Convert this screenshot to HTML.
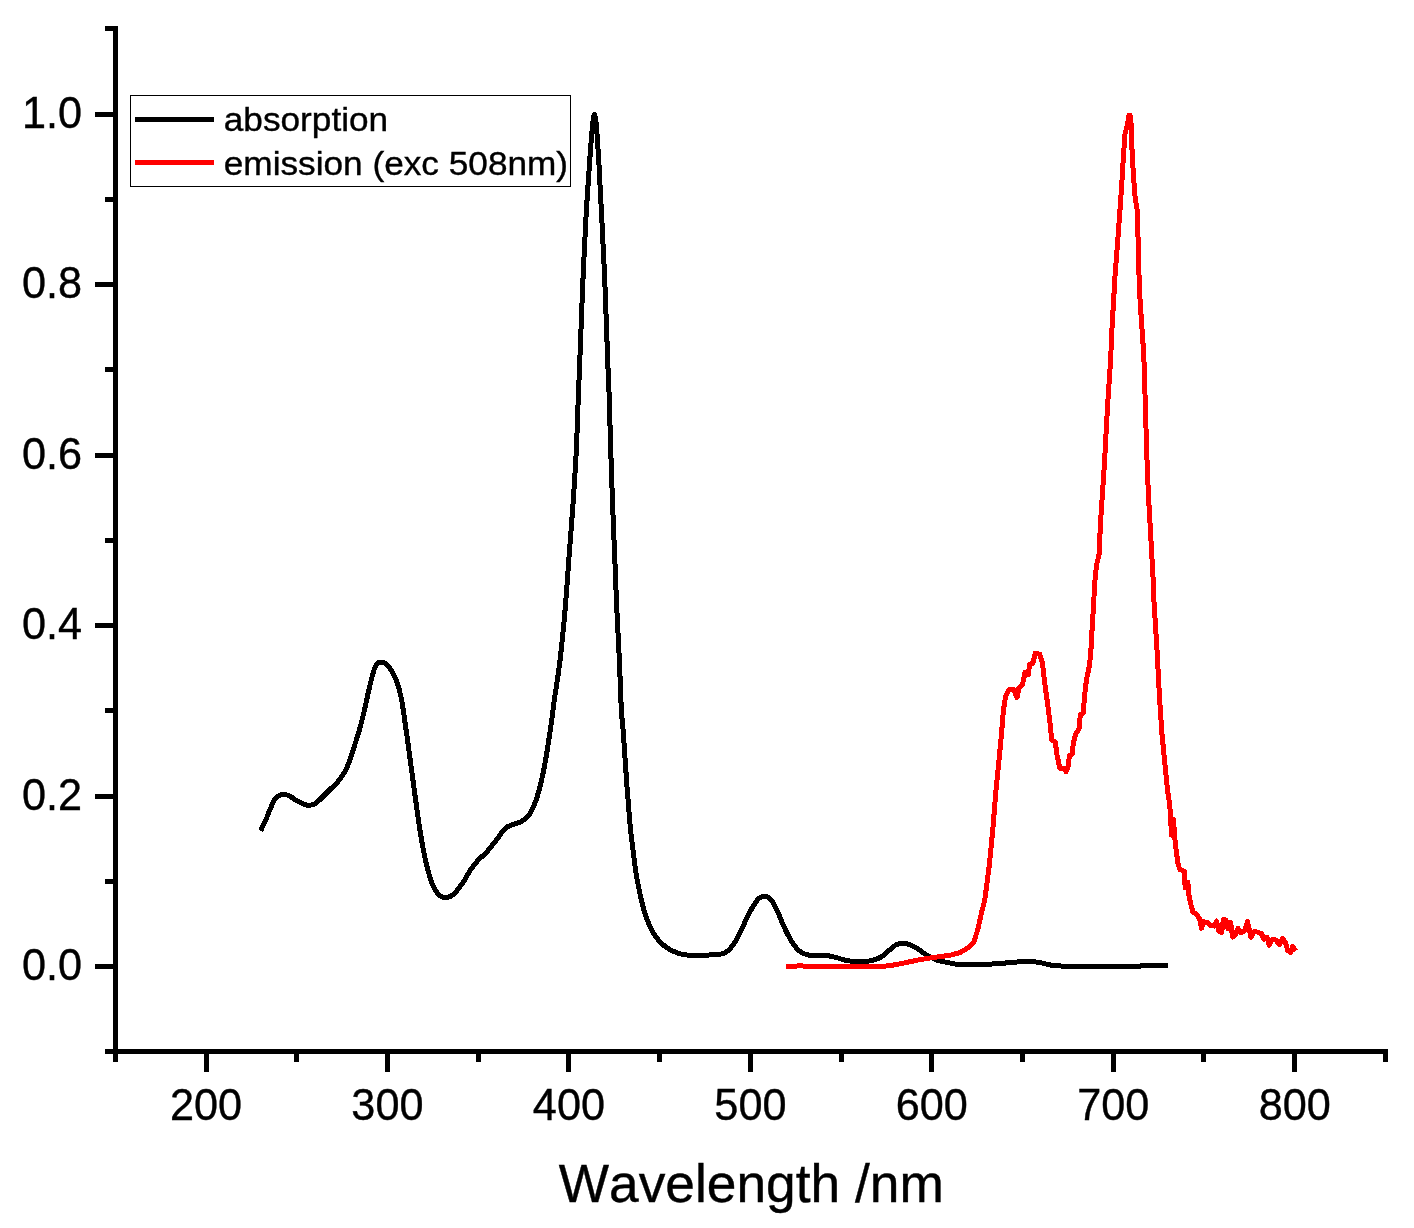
<!DOCTYPE html>
<html><head><meta charset="utf-8"><title>Spectrum</title>
<style>
html,body{margin:0;padding:0;background:#fff;}
svg{display:block;will-change:transform;}
text{font-family:"Liberation Sans",sans-serif;fill:#000;font-kerning:none;stroke:#000;stroke-width:0.4px;}
</style></head><body>
<svg width="1414" height="1228" viewBox="0 0 1414 1228">
<rect width="1414" height="1228" fill="#fff"/>
<g fill="#000" shape-rendering="crispEdges">
<rect x="113" y="26" width="5" height="1036"/>
<rect x="105" y="1049" width="1283" height="5"/>
<rect x="105" y="1049" width="8" height="5"/>
<rect x="95" y="964" width="18" height="5"/>
<rect x="105" y="879" width="8" height="5"/>
<rect x="95" y="794" width="18" height="5"/>
<rect x="105" y="708" width="8" height="5"/>
<rect x="95" y="623" width="18" height="5"/>
<rect x="105" y="538" width="8" height="5"/>
<rect x="95" y="453" width="18" height="5"/>
<rect x="105" y="367" width="8" height="5"/>
<rect x="95" y="282" width="18" height="5"/>
<rect x="105" y="197" width="8" height="5"/>
<rect x="95" y="112" width="18" height="5"/>
<rect x="105" y="26" width="8" height="5"/>
<rect x="113" y="1054" width="4.5" height="8"/>
<rect x="204" y="1054" width="4.5" height="18"/>
<rect x="294" y="1054" width="4.5" height="8"/>
<rect x="385" y="1054" width="4.5" height="18"/>
<rect x="476" y="1054" width="4.5" height="8"/>
<rect x="566" y="1054" width="4.5" height="18"/>
<rect x="657" y="1054" width="4.5" height="8"/>
<rect x="748" y="1054" width="4.5" height="18"/>
<rect x="839" y="1054" width="4.5" height="8"/>
<rect x="929" y="1054" width="4.5" height="18"/>
<rect x="1020" y="1054" width="4.5" height="8"/>
<rect x="1111" y="1054" width="4.5" height="18"/>
<rect x="1201" y="1054" width="4.5" height="8"/>
<rect x="1292" y="1054" width="4.5" height="18"/>
<rect x="1383" y="1054" width="4.5" height="8"/>
</g>
<g font-size="43.25">
<text transform="translate(82 980) scale(1 1.041)" text-anchor="end">0.0</text>
<text transform="translate(82 810) scale(1 1.041)" text-anchor="end">0.2</text>
<text transform="translate(82 639) scale(1 1.041)" text-anchor="end">0.4</text>
<text transform="translate(82 469) scale(1 1.041)" text-anchor="end">0.6</text>
<text transform="translate(82 298) scale(1 1.041)" text-anchor="end">0.8</text>
<text transform="translate(82 128) scale(1 1.041)" text-anchor="end">1.0</text>
<text transform="translate(206.0 1120) scale(1 1.041)" text-anchor="middle">200</text>
<text transform="translate(387.4 1120) scale(1 1.041)" text-anchor="middle">300</text>
<text transform="translate(568.9 1120) scale(1 1.041)" text-anchor="middle">400</text>
<text transform="translate(750.4 1120) scale(1 1.041)" text-anchor="middle">500</text>
<text transform="translate(931.8 1120) scale(1 1.041)" text-anchor="middle">600</text>
<text transform="translate(1113.2 1120) scale(1 1.041)" text-anchor="middle">700</text>
<text transform="translate(1294.7 1120) scale(1 1.041)" text-anchor="middle">800</text>
</g>
<text transform="translate(751.3 1202) scale(1 1.01)" font-size="53.3" text-anchor="middle">Wavelength /nm</text>
<path d="M260.6 831.0C260.8 830.6 260.8 830.6 261.7 828.6C262.6 826.6 264.7 822.5 266.2 819.0C267.7 815.5 269.3 811.0 270.8 807.6C272.3 804.2 273.8 800.6 275.3 798.5C276.8 796.4 278.4 795.8 279.9 795.1C281.4 794.4 282.8 794.2 284.5 794.4C286.2 794.6 288.1 795.3 290.2 796.4C292.3 797.5 294.7 799.5 297.0 800.8C299.3 802.1 301.8 803.5 303.9 804.2C306.0 805.0 307.7 805.4 309.6 805.3C311.5 805.2 313.2 805.0 315.3 803.7C317.4 802.4 319.6 799.8 322.1 797.4C324.6 795.0 327.4 792.1 330.1 789.4C332.8 786.7 335.8 784.1 338.1 781.4C340.4 778.7 342.1 776.2 343.8 773.4C345.5 770.5 346.6 768.7 348.3 764.3C350.0 759.9 352.1 753.1 354.0 747.2C355.9 741.3 358.0 735.0 359.7 728.9C361.4 722.8 362.8 717.2 364.3 710.7C365.8 704.2 367.3 696.7 368.8 690.2C370.3 683.7 372.1 676.3 373.4 671.9C374.7 667.5 375.5 665.5 376.8 663.9C378.1 662.3 379.9 662.1 381.4 662.1C382.9 662.1 384.3 662.5 386.0 663.9C387.7 665.3 389.8 667.6 391.7 670.8C393.6 674.0 395.7 678.2 397.4 683.3C399.1 688.4 400.6 694.8 401.9 701.6C403.2 708.5 404.1 716.4 405.3 724.4C406.5 732.4 407.7 741.1 408.8 749.5C409.9 757.9 411.1 766.2 412.2 774.6C413.3 783.0 414.3 790.1 415.6 799.6C416.9 809.1 418.7 822.1 420.2 831.6C421.7 841.1 423.2 849.4 424.7 856.6C426.2 863.8 427.8 869.8 429.3 874.9C430.8 880.0 432.1 884.0 433.8 887.4C435.5 890.8 437.6 893.7 439.5 895.4C441.4 897.1 443.4 897.6 445.3 897.7C447.2 897.8 449.1 897.2 451.0 896.1C452.9 895.0 454.6 893.3 456.7 890.9C458.8 888.5 461.2 885.1 463.5 881.7C465.8 878.3 468.0 873.7 470.3 870.3C472.6 866.9 474.4 864.3 477.2 861.2C480.0 858.1 483.8 855.1 487.1 851.5C490.4 847.9 493.8 843.2 496.9 839.3C499.9 835.4 502.5 830.8 505.4 828.3C508.2 825.8 511.1 825.3 514.0 824.1C516.9 822.9 519.9 822.6 522.5 820.9C525.1 819.1 527.6 817.0 529.9 813.6C532.1 810.2 534.2 805.3 536.0 800.2C537.8 795.1 539.5 788.8 540.9 783.1C542.3 777.4 543.3 772.5 544.5 766.0C545.7 759.5 547.0 751.8 548.2 744.0C549.4 736.2 550.8 726.8 551.8 719.5C552.8 712.2 552.9 709.8 554.3 700.0C555.7 690.2 558.2 675.9 560.0 660.6C561.8 645.3 563.7 625.8 565.2 608.4C566.7 591.0 567.8 573.7 569.1 556.3C570.4 538.9 571.8 521.6 573.0 504.2C574.2 486.8 575.3 469.5 576.2 452.1C577.1 434.7 577.7 413.1 578.2 400.0C578.7 386.9 578.8 386.7 579.3 373.6C579.8 360.5 580.6 338.9 581.3 321.5C582.0 304.1 582.6 286.8 583.4 269.4C584.2 252.0 585.0 234.6 586.0 217.2C587.0 199.8 588.3 180.3 589.4 165.1C590.5 149.9 591.7 134.4 592.5 126.0C593.3 117.6 593.8 114.5 594.4 114.5C595.0 114.5 595.6 117.6 596.4 126.0C597.2 134.4 598.1 149.9 599.0 165.1C599.9 180.3 600.8 199.8 601.7 217.2C602.6 234.6 603.5 252.0 604.3 269.4C605.1 286.8 605.6 304.1 606.3 321.5C606.9 338.9 607.7 360.5 608.2 373.6C608.7 386.7 608.9 386.9 609.3 400.0C609.7 413.1 610.2 434.7 610.8 452.1C611.3 469.5 612.0 486.8 612.6 504.2C613.2 521.6 614.0 538.9 614.7 556.3C615.4 573.7 616.0 591.0 616.8 608.4C617.6 625.8 618.6 643.7 619.4 660.6C620.1 677.5 620.8 699.4 621.3 710.0C621.8 720.6 622.2 717.9 622.7 724.4C623.2 730.9 623.8 739.9 624.4 748.9C625.0 757.9 625.8 769.2 626.4 778.2C627.0 787.2 627.6 794.5 628.3 802.6C628.9 810.7 629.5 818.9 630.3 827.0C631.1 835.1 632.2 843.8 633.2 851.5C634.2 859.2 635.0 866.6 636.1 873.5C637.2 880.4 638.5 886.9 639.8 893.0C641.1 899.1 642.4 904.6 644.0 910.1C645.6 915.6 647.5 921.3 649.6 926.0C651.8 930.7 654.2 934.7 656.9 938.2C659.5 941.7 662.5 944.5 665.5 946.8C668.5 949.1 672.0 950.8 675.2 952.1C678.5 953.4 680.9 954.3 685.0 954.8C689.1 955.3 695.4 955.3 699.7 955.3C704.0 955.3 707.3 955.1 711.0 954.9C714.7 954.6 719.3 954.4 722.1 953.8C724.9 953.1 725.6 952.7 727.6 951.0C729.6 949.3 731.9 946.9 734.0 943.7C736.1 940.5 738.4 936.0 740.5 931.7C742.6 927.4 744.8 922.2 746.9 917.9C749.0 913.6 751.3 909.2 753.3 906.0C755.3 902.8 756.9 900.2 758.8 898.6C760.7 897.0 762.7 896.1 764.7 896.2C766.7 896.4 768.9 897.4 770.8 899.5C772.7 901.6 774.5 905.0 776.3 908.7C778.1 912.4 780.0 917.5 781.8 921.6C783.6 925.8 785.3 929.8 787.3 933.6C789.3 937.4 791.6 941.6 793.8 944.6C795.9 947.6 797.8 949.9 800.2 951.6C802.7 953.4 805.6 954.4 808.5 955.1C811.4 955.8 814.6 955.5 817.7 955.6C820.8 955.7 823.8 955.3 826.9 955.6C830.0 955.9 833.0 956.7 836.1 957.5C839.2 958.3 842.2 959.5 845.3 960.2C848.4 960.9 851.4 961.3 854.5 961.5C857.6 961.7 860.6 961.7 863.7 961.5C866.8 961.3 869.9 961.0 872.9 960.2C875.9 959.4 879.2 958.2 882.0 956.5C884.8 954.8 887.1 952.0 889.4 950.1C891.7 948.2 893.6 946.1 895.8 945.0C897.9 943.9 900.0 943.4 902.3 943.3C904.6 943.2 907.1 943.8 909.6 944.6C912.1 945.4 914.2 946.6 917.0 948.3C919.8 950.0 922.8 952.7 926.2 954.7C929.6 956.7 933.5 958.9 937.2 960.2C940.9 961.5 944.4 961.9 948.2 962.6C952.0 963.3 953.6 964.3 960.2 964.6C966.8 964.9 980.4 964.5 987.8 964.2C995.2 964.0 999.5 963.5 1004.4 963.1C1009.3 962.7 1013.2 962.3 1017.2 962.0C1021.2 961.7 1024.6 961.4 1028.3 961.5C1032.0 961.6 1035.6 961.8 1039.3 962.4C1043.0 963.0 1046.3 964.4 1050.3 965.0C1054.3 965.6 1054.9 965.9 1063.2 966.1C1071.5 966.3 1087.4 966.1 1100.0 966.1C1112.6 966.1 1131.5 966.2 1138.6 966.1C1145.6 966.0 1139.6 965.6 1142.3 965.5C1145.0 965.4 1150.7 965.3 1155.0 965.3C1159.3 965.3 1165.8 965.3 1168.0 965.3" fill="none" stroke="#000" stroke-width="5" stroke-linejoin="round" shape-rendering="crispEdges"/>
<path d="M786.4 966.3L796.0 966.3L799.3 965.5L804.8 966.3L883.9 966.3L894.9 964.8L906.0 962.6L917.0 960.2L929.9 958.0L944.6 956.0L951.0 955.0L960.2 952.6L967.6 948.0L974.0 941.6L977.7 929.7L981.4 913.1L984.8 900.0L989.2 866.2L992.8 829.7L995.7 793.2L998.9 761.3L1001.5 734.0L1003.3 711.2L1005.6 696.4L1009.0 689.5L1013.6 689.5L1017.0 697.5L1018.8 688.4L1022.7 683.8L1025.0 672.4L1028.4 674.7L1029.5 664.4L1032.9 663.3L1035.2 653.0L1039.8 654.2L1042.5 663.3L1044.8 683.8L1047.7 704.3L1050.0 722.6L1051.6 739.7L1055.3 741.9L1056.9 754.5L1059.8 768.1L1063.7 768.1L1066.0 771.6L1068.3 765.9L1069.4 755.6L1072.1 754.5L1073.5 741.9L1076.2 732.8L1079.0 729.4L1080.3 714.6L1083.1 713.4L1084.9 692.9L1086.5 679.3L1089.5 665.6L1091.1 647.4L1092.6 620.0L1093.5 606.2L1094.7 583.4L1096.5 565.2L1099.2 553.8L1100.4 524.2L1102.2 496.8L1104.5 462.6L1106.3 428.4L1108.3 394.2L1110.6 360.0L1112.0 328.0L1113.6 300.6L1115.2 273.3L1117.5 243.6L1119.7 214.0L1121.6 186.6L1123.4 157.0L1125.0 134.2L1126.1 129.6L1127.6 124.5L1129.0 115.0L1130.0 115.0L1131.1 124.0L1131.8 145.6L1133.4 175.2L1135.2 198.0L1137.5 211.7L1138.0 236.8L1138.7 266.4L1139.8 296.1L1141.6 323.4L1143.2 346.2L1144.4 370.0L1145.0 394.2L1146.0 428.4L1147.1 462.6L1148.5 496.8L1150.1 524.2L1151.7 553.8L1153.0 576.6L1154.2 606.2L1155.8 630.0L1157.3 655.2L1159.3 693.3L1161.7 731.4L1164.6 760.7L1167.5 790.1L1169.0 800.0L1170.6 814.7L1171.4 835.2L1173.5 819.1L1174.7 836.7L1176.1 849.9L1177.9 863.0L1179.8 869.6L1184.2 871.1L1185.2 888.0L1187.9 882.1L1188.6 893.8L1190.8 904.1L1193.0 912.2L1196.7 914.4L1199.6 918.8L1201.5 928.3L1203.3 921.7L1206.9 922.4L1210.6 925.4L1214.3 926.1L1216.5 921.0L1218.7 931.2L1221.6 932.7L1223.3 919.5L1226.0 920.2L1228.2 929.0L1230.7 922.4L1232.6 937.1L1235.5 934.9L1238.0 928.3L1240.6 932.7L1244.3 931.2L1247.5 921.7L1250.9 937.1L1254.6 931.2L1261.2 933.4L1264.1 939.3L1267.0 937.1L1269.2 945.2L1272.2 939.3L1275.8 940.0L1279.5 944.4L1282.4 938.6L1285.4 942.2L1287.6 950.3L1290.5 952.5L1292.7 946.6L1295.6 951.0" fill="none" stroke="#f00" stroke-width="5" stroke-linejoin="round" shape-rendering="crispEdges"/>
<rect x="130.5" y="95.5" width="440" height="91" fill="#fff" stroke="#000" stroke-width="1" shape-rendering="crispEdges"/>
<rect x="135" y="116.5" width="79" height="5.5" fill="#000" shape-rendering="crispEdges"/>
<rect x="135" y="159.5" width="79" height="5.5" fill="#f00" shape-rendering="crispEdges"/>
<text transform="translate(223.8 131) scale(1 0.96)" font-size="35.2">absorption</text>
<text transform="translate(223.8 175) scale(1 0.96)" font-size="35.2">emission (exc 508nm)</text>
</svg>
</body></html>
